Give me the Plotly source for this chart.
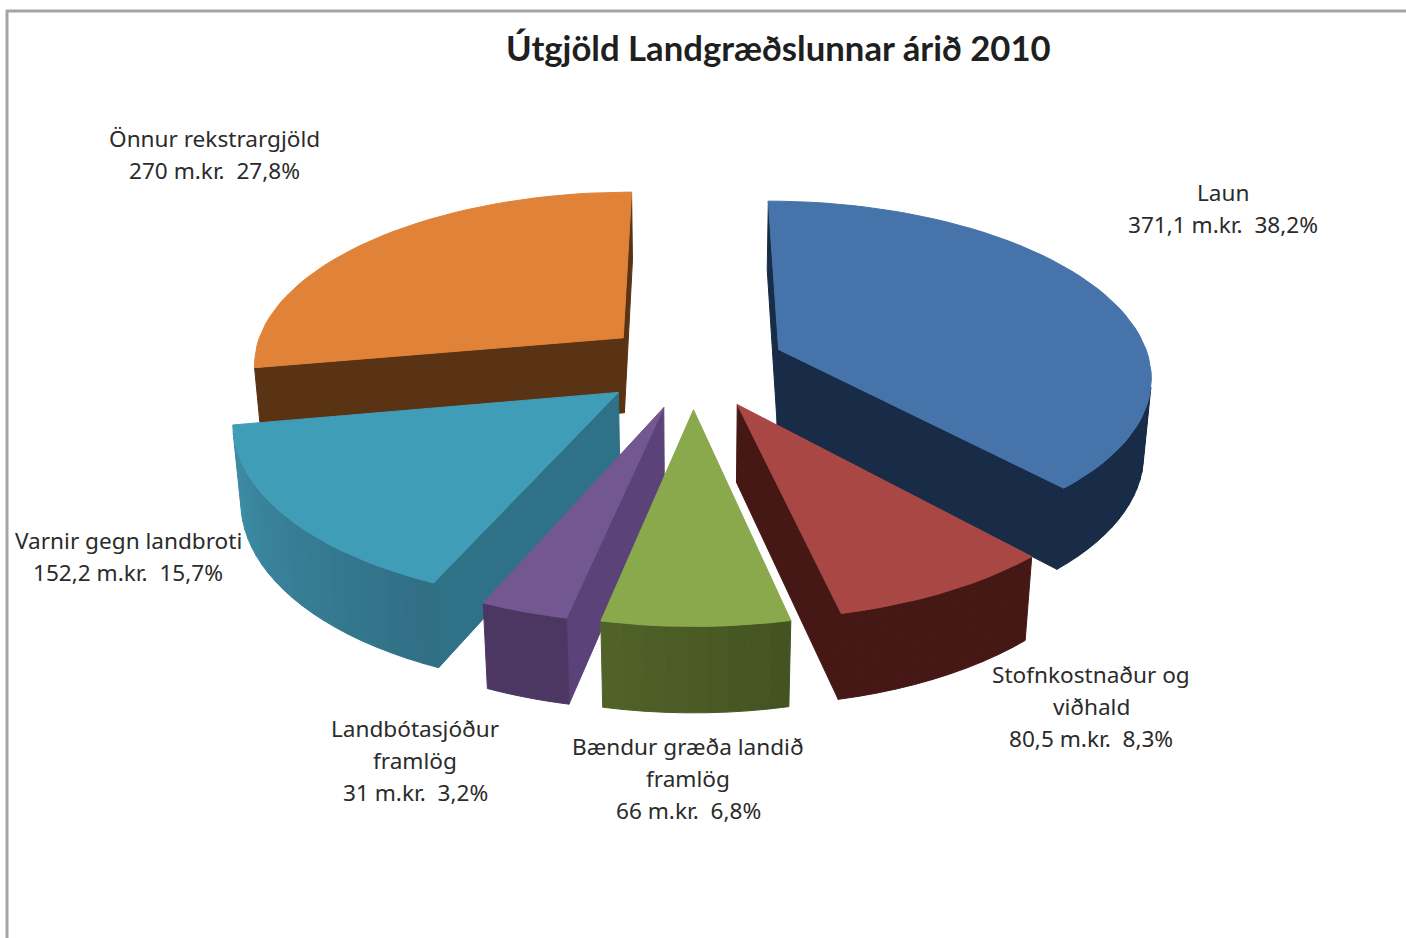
import math
import plotly.graph_objects as go

# --- data ---
categories = ["Laun", "Stofnkostnaður og viðhald", "Bændur græða landið framlög",
              "Landbótasjóður framlög", "Varnir gegn landbroti", "Önnur rekstrargjöld"]
values = [371.1, 80.5, 66, 31, 152.2, 270]
label_lines = [
    ["Laun", "371,1 m.kr.\u00a0 38,2%"],
    ["Stofnkostnaður og", "viðhald", "80,5 m.kr.\u00a0 8,3%"],
    ["Bændur græða landið", "framlög", "66 m.kr.\u00a0 6,8%"],
    ["Landbótasjóður", "framlög", "31 m.kr.\u00a0 3,2%"],
    ["Varnir gegn landbroti", "152,2 m.kr.\u00a0 15,7%"],
    ["Önnur rekstrargjöld", "270 m.kr.\u00a0 27,8%"],
]
title_text = "Útgjöld Landgræðslunnar árið 2010"

# --- style ---
top_colors = ["#4674aa", "#a84743", "#8aa84c", "#735791", "#409db8", "#e08338"]
wall_left = ["#182c48", "#451815", "#526429", "#4b3762", "#3d90a9", "#5a3214"]
wall_right = ["#182c48", "#451815", "#435322", "#4b3762", "#316f85", "#5a3214"]
radial_colors = ["#182c48", "#451815", "#4b5c28", "#5b4279", "#2f7186", "#5a3214"]
label_anchor = [(1223, 192), (1091, 674), (688, 746), (415, 728), (128, 540), (214, 138)]
draw_order = [5, 0, 4, 3, 1, 2]
EXPLODE = 0.25
HEIGHT = 0.235
CX, CY, F, DIST = 693, 365, 372, 6.39
SIN_E, COS_E = 0.465, 0.885
LINE_STEP = 32
LABEL_FONT = "Noto Sans"
LABEL_SIZE = 22.6


def project(X, Y, Z):
    d = DIST + Y * COS_E - Z * SIN_E
    s = F * DIST / d
    return CX + X * s, CY - (Y * SIN_E + Z * COS_E) * s


CAM = (0.0, -DIST * COS_E, DIST * SIN_E)


def visible(p, n):
    return sum((c - a) * b for c, a, b in zip(CAM, p, n)) > 0


def hexmix(a, b, t):
    ca = [int(a[i:i + 2], 16) for i in (1, 3, 5)]
    cb = [int(b[i:i + 2], 16) for i in (1, 3, 5)]
    return "#%02x%02x%02x" % tuple(round(x + (y - x) * t) for x, y in zip(ca, cb))


def poly(points, color):
    xs, ys = zip(*[project(*p) for p in points])
    return go.Scatter(x=list(xs) + [xs[0]], y=list(ys) + [ys[0]], mode="lines", fill="toself",
                      fillcolor=color, line=dict(color=color, width=1),
                      hoverinfo="skip", showlegend=False)


total = sum(values)
edges = [0.0]
for v in values:
    edges.append(edges[-1] + v / total * 2 * math.pi)

fig = go.Figure()
for i in draw_order:
    a0, a1 = edges[i], edges[i + 1]
    mid = (a0 + a1) / 2
    ox, oy = EXPLODE * math.sin(mid), EXPLODE * math.cos(mid)
    n = max(8, int((a1 - a0) / math.radians(2.5)))
    ang = [a0 + (a1 - a0) * k / n for k in range(n + 1)]
    rim = lambda t, z: (ox + math.sin(t), oy + math.cos(t), z)
    apex_t, apex_b = (ox, oy, 0.0), (ox, oy, -HEIGHT)

    # radial faces
    n0 = (-math.cos(a0), math.sin(a0), 0.0)
    n1 = (math.cos(a1), -math.sin(a1), 0.0)
    if visible(apex_t, n0):
        fig.add_trace(poly([apex_t, rim(a0, 0), rim(a0, -HEIGHT), apex_b], radial_colors[i]))
    if visible(apex_t, n1):
        fig.add_trace(poly([apex_t, rim(a1, 0), rim(a1, -HEIGHT), apex_b], radial_colors[i]))

    # curved wall
    for k in range(n):
        t0, t1 = ang[k], ang[k + 1]
        tm = (t0 + t1) / 2
        if visible(rim(tm, 0), (math.sin(tm), math.cos(tm), 0.0)):
            c = hexmix(wall_right[i], wall_left[i], k / n)
            fig.add_trace(poly([rim(t0, 0), rim(t1, 0), rim(t1, -HEIGHT), rim(t0, -HEIGHT)], c))

    # top
    fig.add_trace(poly([apex_t] + [rim(t, 0) for t in ang], top_colors[i]))

annotations = [dict(x=778, y=47, text=title_text, showarrow=False, xref="x", yref="y",
                    font=dict(family="Lato", size=34.7, color="#1f1f1f", weight="bold"))]
for lines, (ax, ay) in zip(label_lines, label_anchor):
    for j, line in enumerate(lines):
        annotations.append(dict(x=ax, y=ay + j * LINE_STEP, text=line, showarrow=False,
                                xref="x", yref="y",
                                font=dict(family=LABEL_FONT, size=LABEL_SIZE, color="#2b2b2b")))

fig.update_layout(
    width=1406, height=938, margin=dict(l=0, r=0, t=0, b=0),
    paper_bgcolor="white", plot_bgcolor="white", showlegend=False,
    xaxis=dict(range=[0, 1406], visible=False, fixedrange=True),
    yaxis=dict(range=[938, 0], visible=False, fixedrange=True),
    annotations=annotations,
    shapes=[
        dict(type="line", x0=6, x1=1406, y0=11, y1=11, line=dict(color="#a3a5a7", width=3)),
        dict(type="line", x0=7, x1=7, y0=10, y1=938, line=dict(color="#a3a5a7", width=3)),
    ],
)
fig.write_html("out.html", config={"displayModeBar": False},
               post_script="document.body.style.margin='0';document.body.style.overflow='hidden';")
